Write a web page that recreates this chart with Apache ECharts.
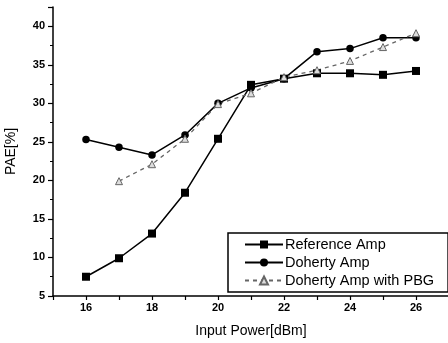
<!DOCTYPE html>
<html>
<head>
<meta charset="utf-8">
<script src="https://cdn.jsdelivr.net/npm/echarts@6/dist/echarts.min.js"></script>
<style>
html,body{margin:0;padding:0;background:#fff;}
#chart{width:448px;height:343px;}
</style>
</head>
<body>
<div id="chart"></div>
<script>
var inputPower = [16, 17, 18, 19, 20, 21, 22, 23, 24, 25, 26];
var referenceAmp = [7.5, 9.9, 13.1, 18.4, 25.4, 32.4, 33.2, 33.9, 33.9, 33.7, 34.2];
var dohertyAmp = [25.3, 24.3, 23.3, 25.9, 30.0, 32.0, 33.2, 36.7, 37.1, 38.5, 38.5];
var dohertyPBG = [null, 19.9, 22.1, 25.4, 29.9, 31.3, 33.4, 34.3, 35.5, 37.3, 39.1];
var seriesNames = ['Reference Amp', 'Doherty Amp', 'Doherty Amp with PBG'];

function pairs(vals) {
  var out = [];
  for (var i = 0; i < inputPower.length; i++) {
    if (vals[i] !== null) out.push([inputPower[i], vals[i]]);
  }
  return out;
}

var font = '"Liberation Sans", Arial, sans-serif';
var chart = echarts.init(document.getElementById('chart'), null, {renderer: 'canvas'});
chart.setOption({
  animation: false,
  backgroundColor: '#fff',
  grid: {left: 53, right: -1, top: 7, bottom: 47, containLabel: false, outerBoundsMode: 'none'},
  legend: {
    orient: 'vertical',
    left: 228, top: 233,
    padding: [4, 14, 4, 16],
    itemWidth: 38, itemHeight: 10, itemGap: 3,
    borderColor: '#000', borderWidth: 1.5,
    backgroundColor: '#fff',
    textStyle: {fontFamily: font, fontSize: 14.5, color: '#000', padding: [0, 0, 0, -3]},
    data: seriesNames
  },
  xAxis: {
    type: 'value', min: 15, max: 27, interval: 1,
    name: 'Input Power[dBm]', nameLocation: 'middle', nameGap: 28,
    nameTextStyle: {fontFamily: font, fontSize: 14, color: '#000'},
    axisLine: {show: true, onZero: false, lineStyle: {color: '#000', width: 1.5}},
    axisTick: {show: true, inside: false, length: 4, lineStyle: {color: '#000', width: 1.2}},
    axisLabel: {
      fontFamily: font, fontSize: 11, fontWeight: 'bold', color: '#000', margin: 6,
      formatter: function (v) { return (v % 2 === 0 && v > 15 && v < 27) ? String(v) : ''; }
    },
    splitLine: {show: false}
  },
  yAxis: {
    type: 'value', min: 5, max: 42.5, interval: 5,
    name: 'PAE[%]', nameLocation: 'middle', nameGap: 35, nameRotate: 90,
    nameTextStyle: {fontFamily: font, fontSize: 14, color: '#000'},
    axisLine: {show: true, onZero: false, lineStyle: {color: '#000', width: 1.5}},
    axisTick: {show: true, inside: false, length: 5, lineStyle: {color: '#000', width: 1.2}},
    minorTick: {show: true, splitNumber: 2, length: 3, lineStyle: {color: '#000', width: 1}},
    axisLabel: {fontFamily: font, fontSize: 11, fontWeight: 'bold', color: '#000', margin: 8, showMaxLabel: false},
    splitLine: {show: false}
  },
  series: [
    {
      name: seriesNames[0], type: 'line', data: pairs(referenceAmp),
      symbol: 'rect', symbolSize: 8,
      lineStyle: {color: '#000', width: 1.5},
      itemStyle: {color: '#000'}
    },
    {
      name: seriesNames[1], type: 'line', data: pairs(dohertyAmp),
      symbol: 'circle', symbolSize: 7.5,
      lineStyle: {color: '#000', width: 1.5},
      itemStyle: {color: '#000'}
    },
    {
      name: seriesNames[2], type: 'line', data: pairs(dohertyPBG),
      symbol: 'triangle', symbolSize: 7,
      lineStyle: {color: '#666', width: 1.3, type: [4, 4]},
      itemStyle: {color: '#ddd', borderColor: '#666', borderWidth: 1}
    }
  ]
});
</script>
</body>
</html>
